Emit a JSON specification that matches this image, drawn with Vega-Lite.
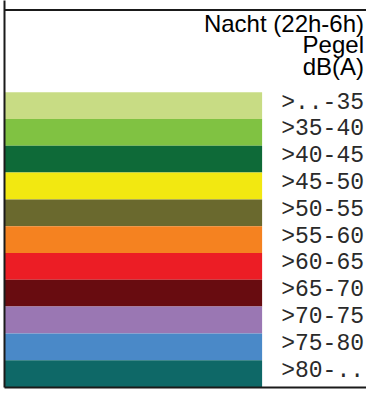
{
  "$schema": "https://vega.github.io/schema/vega-lite/v6.json",
  "width": 362,
  "height": 387,
  "autosize": "none",
  "padding": {"left": 4, "top": 0, "right": 0, "bottom": 7},
  "background": "white",
  "config": {"view": {"stroke": null}},
  "title": {
    "text": ["Nacht (22h-6h)", "Pegel", "dB(A)"],
    "orient": "top",
    "anchor": "end",
    "frame": "group",
    "offset": -80,
    "dx": -2,
    "font": "Liberation Sans",
    "fontSize": 24,
    "fontWeight": "normal",
    "color": "#000000",
    "lineHeight": 21.7
  },
  "data": {
    "values": [
      {"label": ">..-35", "color": "#c8dc84"},
      {"label": ">35-40", "color": "#80c242"},
      {"label": ">40-45", "color": "#0e6a38"},
      {"label": ">45-50", "color": "#f2e811"},
      {"label": ">50-55", "color": "#6a692e"},
      {"label": ">55-60", "color": "#f58220"},
      {"label": ">60-65", "color": "#ec1d25"},
      {"label": ">65-70", "color": "#680c10"},
      {"label": ">70-75", "color": "#9a77b3"},
      {"label": ">75-80", "color": "#4a89c8"},
      {"label": ">80-..", "color": "#0e6867"}
    ]
  },
  "encoding": {
    "y": {
      "field": "label",
      "type": "nominal",
      "sort": null,
      "scale": {
        "domain": ["", " ", ">..-35", ">35-40", ">40-45", ">45-50", ">50-55", ">55-60", ">60-65", ">65-70", ">70-75", ">75-80", ">80-.."],
        "paddingInner": 0,
        "paddingOuter": 0.72,
        "align": 1
      },
      "axis": {"domain": true, "domainColor": "#1a1a1a", "domainWidth": 2, "ticks": false, "labels": false, "title": null, "grid": false, "zindex": 2}
    }
  },
  "layer": [
    {
      "mark": {"type": "bar", "cornerRadius": 0},
      "encoding": {
        "x": {
          "datum": 0,
          "type": "quantitative",
          "scale": {"domain": [0, 100], "nice": false, "zero": false},
          "axis": {"orient": "bottom", "domain": true, "domainColor": "#1a1a1a", "domainWidth": 2, "ticks": false, "labels": false, "title": null, "grid": false, "zindex": 2}
        },
        "x2": {"datum": 71.3},
        "color": {"field": "color", "type": "nominal", "scale": null}
      }
    },
    {
      "mark": {"type": "text", "align": "right", "baseline": "alphabetic", "dx": -2, "dy": 3, "font": "Liberation Mono", "fontSize": 23, "color": "#2a2a2a"},
      "encoding": {
        "x": {
          "datum": 100,
          "type": "quantitative",
          "axis": {"orient": "top", "offset": -9.5, "domain": true, "domainColor": "#1a1a1a", "domainWidth": 2, "ticks": false, "labels": false, "title": null, "grid": false, "zindex": 2}
        },
        "text": {"field": "label"}
      }
    }
  ],
  "resolve": {"axis": {"x": "independent"}}
}
